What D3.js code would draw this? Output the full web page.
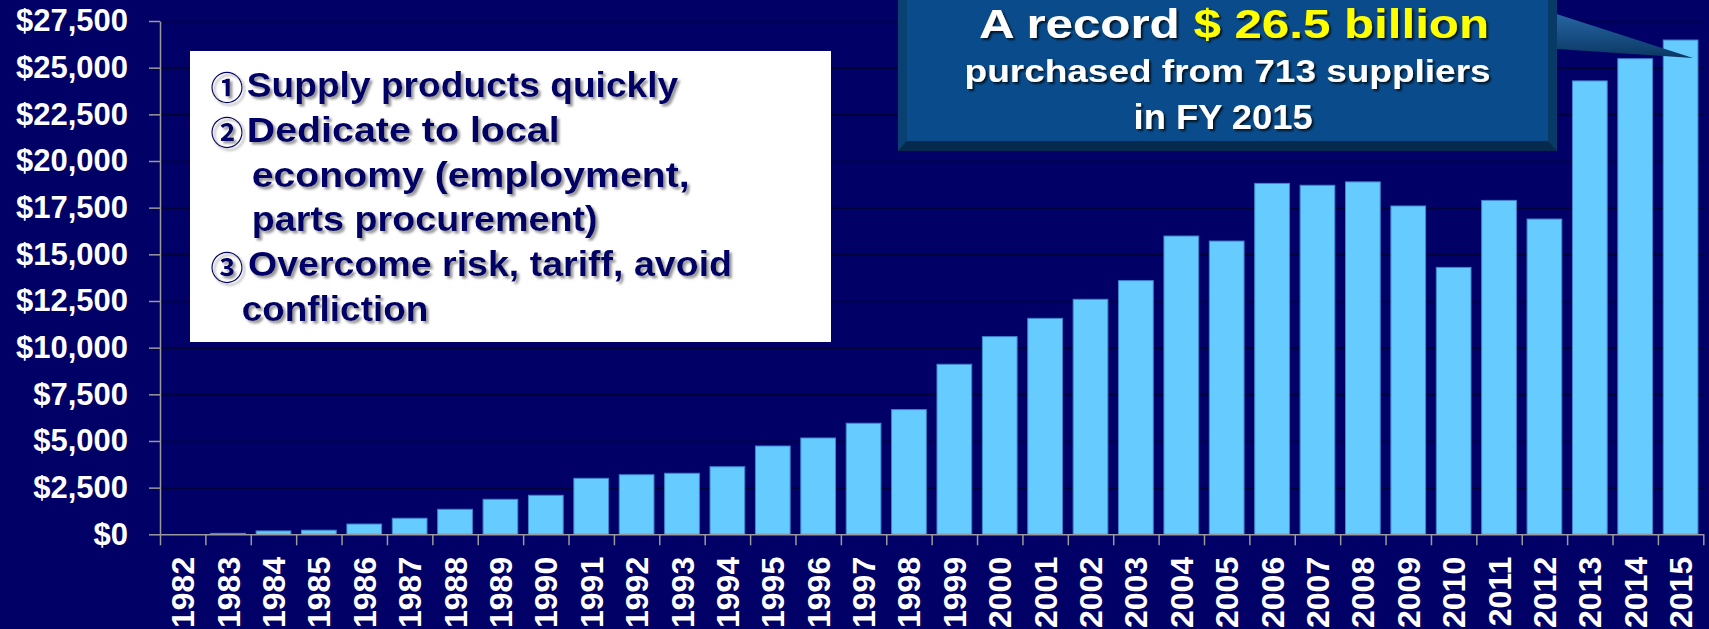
<!DOCTYPE html>
<html>
<head>
<meta charset="utf-8">
<script src="https://cdn.jsdelivr.net/npm/d3@7"></script>
<style>
  body { margin: 0; background: #000066; overflow: hidden; }
  svg { display: block; font-family: "Liberation Sans", Arial, sans-serif; font-weight: bold; }
</style>
</head>
<body>
<div id="chart"></div>
<script>
// purchases per fiscal year, $ millions
const years = ["1982","1983","1984","1985","1986","1987","1988","1989","1990","1991","1992","1993",
  "1994","1995","1996","1997","1998","1999","2000","2001","2002","2003","2004","2005","2006","2007",
  "2008","2009","2010","2011","2012","2013","2014","2015"];
const purchases = [0, 50, 180, 220, 550, 860, 1340, 1875, 2090, 3000, 3190, 3270,
  3620, 4730, 5160, 5950, 6680, 9110, 10590, 11570, 12590, 13590, 15980, 15710, 18800, 18700,
  18880, 17590, 14300, 17890, 16890, 24290, 25480, 26480];
const yTicks = [0, 2500, 5000, 7500, 10000, 12500, 15000, 17500, 20000, 22500, 25000, 27500];

// white note box
const noteMarks = ["①", "②", "", "", "③", ""];
const noteLines = ["Supply products quickly", "Dedicate to local", "economy (employment,",
  "parts procurement)", "Overcome risk, tariff, avoid", "confliction"];

// callout
const calloutHead = ["A record ", "$ 26.5 billion"];
const calloutBody = ["purchased from 713 suppliers", "in FY 2015"];

const W = 1709, H = 629;
const plot = { left: 160, right: 1703.3, top: 21, bottom: 534.3 };

const svg = d3.select("#chart").append("svg")
  .attr("width", W).attr("height", H)
  .attr("viewBox", `0 0 ${W} ${H}`);

const defs = svg.append("defs");
defs.append("filter").attr("id", "navyShadow")
  .attr("x", "-5%").attr("y", "-20%").attr("width", "110%").attr("height", "140%")
  .append("feDropShadow").attr("dx", 2.5).attr("dy", 2.5).attr("stdDeviation", 1.2)
  .attr("flood-color", "#8a8a8a").attr("flood-opacity", 0.9);
defs.append("filter").attr("id", "darkShadow")
  .attr("x", "-5%").attr("y", "-20%").attr("width", "110%").attr("height", "140%")
  .append("feDropShadow").attr("dx", 2).attr("dy", 2).attr("stdDeviation", 1)
  .attr("flood-color", "#000").attr("flood-opacity", 0.75);
const tailGrad = defs.append("linearGradient").attr("id", "tailGrad")
  .attr("x1", 0).attr("y1", 0).attr("x2", 0).attr("y2", 1);
tailGrad.append("stop").attr("offset", "0%").attr("stop-color", "#2a6cab");
tailGrad.append("stop").attr("offset", "100%").attr("stop-color", "#0a3763");

// background
svg.append("rect").attr("width", W).attr("height", H).attr("fill", "#000066");

// scales
const x = d3.scaleBand()
  .domain(years)
  .range([plot.left, plot.right])
  .paddingInner(0.235)
  .paddingOuter(0.1175);

const xEdges = d3.scaleLinear()
  .domain([0, years.length])
  .range([plot.left, plot.right]);

const y = d3.scaleLinear()
  .domain([0, 27500])
  .range([plot.bottom, plot.top]);

// gridlines
svg.append("g")
  .attr("transform", `translate(${plot.left},0)`)
  .call(d3.axisLeft(y).tickValues(yTicks).tickSize(-(plot.right - plot.left)).tickFormat(""))
  .call(g => g.select(".domain").remove())
  .call(g => g.selectAll("line").attr("stroke", "#000038").attr("stroke-width", 1.6));

// bars
svg.append("g")
  .selectAll("rect")
  .data(years.map((yr, i) => ({ year: yr, value: purchases[i] })))
  .join("rect")
  .attr("x", d => x(d.year))
  .attr("y", d => y(d.value))
  .attr("width", x.bandwidth())
  .attr("height", d => y(0) - y(d.value))
  .attr("fill", "#66ccff")
  .attr("stroke", d => d.value > 0 ? "#3f86cc" : "none")
  .attr("stroke-width", 1);

// y axis
svg.append("g")
  .attr("transform", `translate(${plot.left},0)`)
  .call(d3.axisLeft(y).tickValues(yTicks).tickSize(11).tickSizeOuter(0).tickPadding(21)
    .tickFormat(d => "$" + d3.format(",")(d)))
  .call(g => g.select(".domain").attr("stroke", "#9a9a9a").attr("stroke-width", 1.5))
  .call(g => g.selectAll(".tick line").attr("stroke", "#9a9a9a").attr("stroke-width", 1.5))
  .call(g => g.selectAll("text")
    .attr("fill", "#fff")
    .style("font-size", "31px")
    .style("font-family", "'Liberation Sans', Arial, sans-serif")
    .style("font-weight", "bold"));

// x axis: boundary ticks
svg.append("g")
  .attr("transform", `translate(0,${plot.bottom})`)
  .call(d3.axisBottom(xEdges).tickValues(d3.range(years.length + 1)).tickSize(11).tickSizeOuter(0).tickFormat(""))
  .call(g => g.select(".domain").attr("stroke", "#9a9a9a").attr("stroke-width", 1.5))
  .call(g => g.selectAll(".tick line").attr("stroke", "#9a9a9a").attr("stroke-width", 1.5));

// x axis: rotated year labels
svg.append("g")
  .attr("transform", `translate(0,${plot.bottom})`)
  .call(d3.axisBottom(x).tickSize(0))
  .call(g => g.select(".domain").remove())
  .call(g => g.selectAll("text")
    .attr("transform", "rotate(-90)")
    .attr("x", -22.5)
    .attr("y", 0)
    .attr("dy", "0.36em")
    .style("text-anchor", "end")
    .attr("fill", "#fff")
    .style("font-size", "32px")
    .style("font-family", "'Liberation Sans', Arial, sans-serif")
    .style("font-weight", "bold"));

// white note box
const note = svg.append("g");
note.append("rect")
  .attr("x", 190).attr("y", 51).attr("width", 641).attr("height", 291)
  .attr("fill", "#fff");

const noteX = [246.7, 246.7, 251.7, 251.7, 248, 241.7];
const noteW = [431.6, 313, 438, 346, 484, 186.6];
noteLines.forEach((line, i) => {
  const base = 96.7 + i * 44.9;
  if (noteMarks[i]) {
    note.append("text")
      .attr("x", 227).attr("y", base - 10.5)
      .attr("text-anchor", "middle")
      .attr("dominant-baseline", "central")
      .attr("fill", "#000066")
      .attr("filter", "url(#navyShadow)")
      .style("font-family", "'Noto Sans CJK JP', 'DejaVu Sans', sans-serif")
      .style("font-weight", "bold")
      .style("font-size", "33px")
      .text(noteMarks[i]);
  }
  note.append("text")
    .attr("x", noteX[i]).attr("y", base)
    .attr("textLength", noteW[i])
    .attr("lengthAdjust", "spacingAndGlyphs")
    .attr("fill", "#000066")
    .attr("filter", "url(#navyShadow)")
    .style("font-size", "35px")
    .text(line);
});

// callout box with tail
const call = svg.append("g");
call.append("polygon")
  .attr("points", "1538,8 1693,58 1557,49")
  .attr("fill", "url(#tailGrad)");
call.append("rect")
  .attr("x", 898).attr("y", -12).attr("width", 659).attr("height", 163)
  .attr("fill", "#07335e");
// bevels
call.append("polygon").attr("points", "898,-12 907,-12 907,141 898,151").attr("fill", "#0b4172");
call.append("polygon").attr("points", "898,151 907,141 1548,141 1557,151").attr("fill", "#062a4e");
call.append("polygon").attr("points", "1548,-12 1557,-12 1557,151 1548,141").attr("fill", "#083a68");
call.append("rect")
  .attr("x", 907).attr("y", -12).attr("width", 641).attr("height", 153)
  .attr("fill", "#0a4c8b");

call.append("text")
  .attr("x", 979).attr("y", 37.5)
  .attr("textLength", 510).attr("lengthAdjust", "spacingAndGlyphs")
  .attr("filter", "url(#darkShadow)")
  .style("font-size", "40px")
  .selectAll("tspan")
  .data(calloutHead)
  .join("tspan")
  .attr("fill", (d, i) => i === 0 ? "#ffffff" : "#ffff00")
  .text(d => d);

call.append("text")
  .attr("x", 964.6).attr("y", 81.7)
  .attr("textLength", 526).attr("lengthAdjust", "spacingAndGlyphs")
  .attr("fill", "#fff")
  .attr("filter", "url(#darkShadow)")
  .style("font-size", "32px")
  .text(calloutBody[0]);

call.append("text")
  .attr("x", 1133.6).attr("y", 129)
  .attr("textLength", 179).attr("lengthAdjust", "spacingAndGlyphs")
  .attr("fill", "#fff")
  .attr("filter", "url(#darkShadow)")
  .style("font-size", "35px")
  .text(calloutBody[1]);
</script>
</body>
</html>
